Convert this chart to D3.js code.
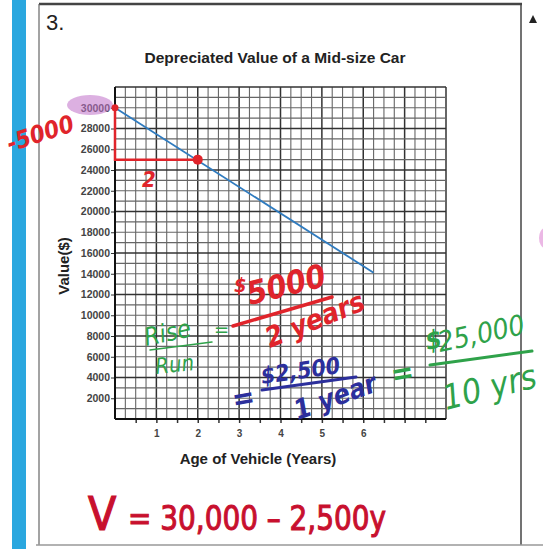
<!DOCTYPE html>
<html>
<head>
<meta charset="utf-8">
<script src="https://cdn.jsdelivr.net/npm/d3@7"></script>
<style>
  body { margin: 0; background: #fff; }
  svg { display: block; }
</style>
</head>
<body>
<script>
// page size
var width = 543;
var height = 549;

// chart data
var valueTicks = [2000, 4000, 6000, 8000, 10000, 12000, 14000, 16000, 18000, 20000, 22000, 24000, 26000, 28000, 30000];
var yearLabels = [1, 2, 3, 4, 5, 6];
var yearTicks = [0.5, 1, 1.5, 2, 2.5, 3, 3.5, 4, 4.5, 5, 5.5, 6, 6.5, 7, 7.5];
var lineYears = [0, 6.25];
var lineValues = [30000, 14100];
var dotYears = [0, 2];
var dotValues = [30000, 25000];

var svg = d3.select("body")
  .append("svg")
    .attr("width", width)
    .attr("height", height)
    .style("background-color", "white");

var x = d3.scaleLinear().domain([0, 8]).range([115, 446]);
var y = d3.scaleLinear().domain([0, 32000]).range([419, 87]);

// worksheet frame
svg.append("rect").attr("x", 12).attr("y", 0).attr("width", 14).attr("height", height).attr("fill", "#2aa7df");
svg.append("line").attr("x1", 39).attr("x2", 522).attr("y1", 4).attr("y2", 4)
  .attr("stroke", "#444").attr("stroke-width", 2.5);
svg.append("line").attr("x1", 39).attr("x2", 39).attr("y1", 4).attr("y2", 545)
  .attr("stroke", "#666").attr("stroke-width", 1.2);
svg.append("line").attr("x1", 521).attr("x2", 521).attr("y1", 4).attr("y2", 545)
  .attr("stroke", "#444").attr("stroke-width", 1.5);
svg.append("line").attr("x1", 36).attr("x2", 543).attr("y1", 545).attr("y2", 545)
  .attr("stroke", "#999").attr("stroke-width", 1.5);
svg.append("path").attr("d", "M529,23 L533,15 L537,23 Z").attr("fill", "#222");
svg.append("ellipse").attr("cx", 545).attr("cy", 238).attr("rx", 6).attr("ry", 10)
  .attr("fill", "#e6a6df").attr("opacity", 0.8);

svg.append("text").attr("x", 46).attr("y", 30).text("3.")
  .style("font-family", "Liberation Sans, Arial").style("font-size", "22px").attr("fill", "#222");

// title
svg.append("text").attr("x", 275).attr("y", 63).attr("text-anchor", "middle")
  .text("Depreciated Value of a Mid-size Car")
  .style("font-family", "Liberation Sans, Arial").style("font-weight", "bold")
  .style("font-size", "15.5px").attr("fill", "#222");

// grid
var minorX = d3.range(0, 8.01, 0.25);
var minorY = d3.range(0, 32001, 1000);
var grid = svg.append("g");
grid.selectAll(".vx").data(minorX).enter().append("line")
  .attr("x1", function(d) { return x(d); }).attr("x2", function(d) { return x(d); })
  .attr("y1", y(0)).attr("y2", y(32000))
  .attr("stroke", function(d) { return d % 1 === 0 ? "#333" : "#666"; })
  .attr("stroke-width", function(d) { return d % 1 === 0 ? 1.5 : 1.1; });
grid.selectAll(".hy").data(minorY).enter().append("line")
  .attr("y1", function(d) { return y(d); }).attr("y2", function(d) { return y(d); })
  .attr("x1", x(0)).attr("x2", x(8))
  .attr("stroke", function(d) { return d % 4000 === 0 ? "#333" : "#666"; })
  .attr("stroke-width", function(d) { return d % 4000 === 0 ? 1.5 : 1.1; });

// axes
var yAxis = d3.axisLeft(y).tickValues(valueTicks).tickSize(4).tickPadding(1).tickFormat(d3.format("d"));
var yg = svg.append("g").attr("transform", "translate(" + x(0) + ",0)").call(yAxis);
yg.select(".domain").remove();
yg.selectAll("text").style("font-family", "Liberation Sans, Arial").style("font-size", "10.5px")
  .style("font-weight", "bold").attr("fill", "#444");
yg.selectAll("line").attr("stroke", "#333");

var xAxis = d3.axisBottom(x).tickValues(yearTicks).tickSize(4).tickPadding(7)
  .tickFormat(function(d) { return yearLabels.indexOf(d) >= 0 ? d : ""; });
var xg = svg.append("g").attr("transform", "translate(0," + y(0) + ")").call(xAxis);
xg.select(".domain").remove();
xg.selectAll("text").style("font-family", "Liberation Sans, Arial").style("font-size", "10px")
  .style("font-weight", "bold").attr("fill", "#444");
xg.selectAll("line").attr("stroke", "#333").attr("stroke-width", 1.5);

svg.append("line").attr("x1", x(0)).attr("x2", x(0)).attr("y1", y(32000)).attr("y2", y(0))
  .attr("stroke", "#111").attr("stroke-width", 2);
svg.append("line").attr("x1", x(0)).attr("x2", x(8)).attr("y1", y(0)).attr("y2", y(0))
  .attr("stroke", "#111").attr("stroke-width", 2);

svg.append("text").attr("transform", "translate(69,266) rotate(-90)").attr("text-anchor", "middle")
  .text("Value($)")
  .style("font-family", "Liberation Sans, Arial").style("font-weight", "bold")
  .style("font-size", "15px").attr("fill", "#222");
svg.append("text").attr("x", 258).attr("y", 464).attr("text-anchor", "middle")
  .text("Age of Vehicle (Years)")
  .style("font-family", "Liberation Sans, Arial").style("font-weight", "bold")
  .style("font-size", "15px").attr("fill", "#222");

// the data line
var pts = lineYears.map(function(d, i) { return [d, lineValues[i]]; });
svg.append("path").datum(pts)
  .attr("d", d3.line().x(function(d) { return x(d[0]); }).y(function(d) { return y(d[1]); }))
  .attr("fill", "none").attr("stroke", "#2f7bbf").attr("stroke-width", 1.8);

// handwritten notes
var red = "#e0242b";
svg.append("ellipse").attr("cx", 90).attr("cy", 105).attr("rx", 23).attr("ry", 10)
  .attr("fill", "#c070c8").attr("opacity", 0.55);

svg.append("path")
  .attr("d", "M" + x(dotYears[0]) + "," + y(dotValues[0]) + " L" + x(dotYears[0]) + "," + y(dotValues[1]) +
    " L" + x(dotYears[1]) + "," + y(dotValues[1]))
  .attr("fill", "none").attr("stroke", red).attr("stroke-width", 2.5);
svg.selectAll(".dot").data(dotYears).enter().append("circle")
  .attr("cx", function(d) { return x(d); })
  .attr("cy", function(d, i) { return y(dotValues[i]); })
  .attr("r", function(d, i) { return i === 0 ? 3.5 : 5; })
  .attr("fill", red);

var hand = "Liberation Sans Narrow, DejaVu Sans Condensed, sans-serif";
function note(txt, tx, ty, size, color, rot, weight, style) {
  return svg.append("text")
    .attr("transform", "translate(" + tx + "," + ty + ") rotate(" + (rot || 0) + ")")
    .text(txt)
    .style("font-family", hand).style("font-size", size + "px")
    .style("font-style", style || "italic").style("font-weight", weight || "bold")
    .attr("fill", color);
}
function stroke(x1, y1, x2, y2, color, w) {
  svg.append("line").attr("x1", x1).attr("y1", y1).attr("x2", x2).attr("y2", y2)
    .attr("stroke", color).attr("stroke-width", w || 3).attr("stroke-linecap", "round");
}

note("-5000", 10, 152, 24, red, -18);
note("2", 142, 187, 22, red, 0);

var green = "#2fa24a";
note("Rise", 146, 346, 25, green, -12, "normal");
note("=", 214, 336, 20, green, 0, "normal");
stroke(150, 350, 212, 342, green, 1.5);
note("Run", 156, 374, 22, green, -6, "normal");

note("$", 234, 292, 20, red, 0);
note("5000", 250, 305, 32, red, -14);
stroke(233, 326, 332, 297, red, 3.5);
note("2 years", 270, 348, 28, red, -22);

var blue = "#2c2f9c";
note("=", 234, 410, 30, blue, -10);
note("$2,500", 262, 384, 23, blue, -8);
stroke(262, 390, 356, 377, blue, 3);
note("1 year", 298, 420, 27, blue, -20);

note("=", 393, 385, 30, green, -10);
note("$", 427, 350, 26, green, -10);
note("25,000", 440, 352, 28, green, -12, "normal");
stroke(430, 365, 532, 351, green, 3);
note("10 yrs", 446, 410, 34, green, -14, "normal");

var eq = "#c8102e";
note("V", 88, 530, 46, eq, 0, "normal", "normal")
  .attr("stroke", eq).attr("stroke-width", 1.2);
note("= 30,000 \u2013 2,500y", 128, 530, 33, eq, 0, "normal", "normal")
  .attr("textLength", 258).attr("lengthAdjust", "spacingAndGlyphs")
  .attr("stroke", eq).attr("stroke-width", 1);
</script>
</body>
</html>
